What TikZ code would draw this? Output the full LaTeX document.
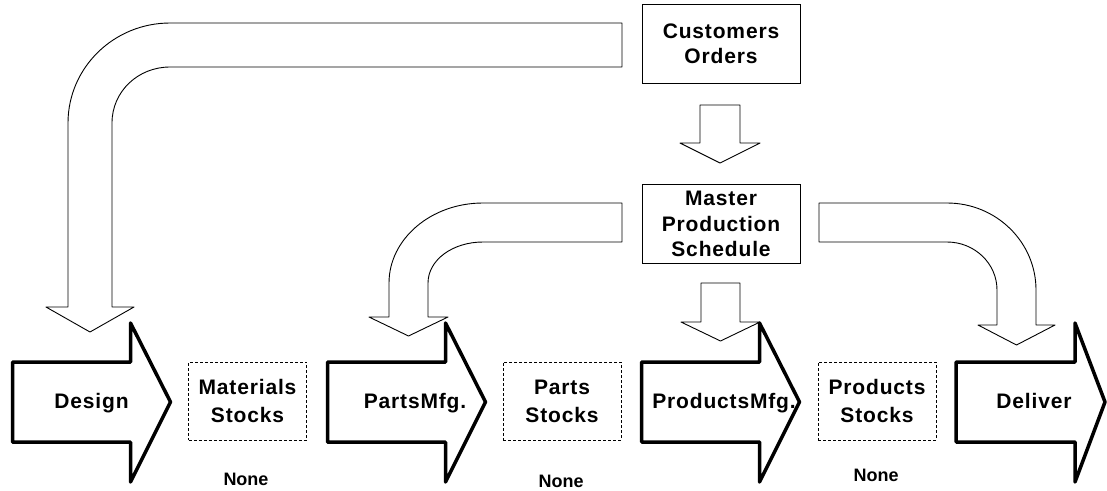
\documentclass[tikz,border=0pt]{standalone}
\usepackage{fontspec}
\setmainfont{Liberation Sans}
\newfontfamily\boxfont[LetterSpace=4]{Liberation Sans}
\usetikzlibrary{positioning}

\tikzset{
    planbox/.style={draw, line width=0.9pt, minimum width=158pt, minimum height=79pt,
        inner sep=0pt, align=center, font=\boxfont\bfseries\fontsize{21}{25.5}\selectfont},
    stockbox/.style={draw, dash pattern=on 3pt off 2pt, line width=0.8pt, minimum width=118pt,
        minimum height=78pt, inner sep=0pt, align=center, font=\boxfont\bfseries\fontsize{21}{28}\selectfont},
    stagearrow/.style={draw, line width=3.5pt, line join=round},
    stagetext/.style={anchor=base, inner sep=0pt, font=\boxfont\bfseries\fontsize{21}{25}\selectfont},
    fatarrow/.style={draw, fill=white, line width=0.9pt, line join=round},
    nonetext/.style={inner sep=0pt, font=\bfseries\fontsize{18}{22}\selectfont}
}

\begin{document}
\begin{tikzpicture}[x=1pt, y=-1pt]
    \useasboundingbox (0,0) rectangle (1107,490);

    \node[planbox] (orders) at (721,44) {Customers\\Orders};
    \node[planbox, below=100pt of orders] (mps) {Master\\Production\\Schedule};

    % block arrows out of the plans
    \draw[fatarrow] (622,23) -- (170,23) .. controls (113.7,23) and (68,67.8) .. (68,123)
        -- (68,307) -- (46,307) -- (90,332) -- (134,307) -- (112,307) -- (112,123)
        .. controls (112,91.5) and (138,67) .. (170,67) -- (622,67) -- cycle;
    \draw[fatarrow] (700,105) -- (740,105) -- (740,143) -- (760,143) -- (720,163)
        -- (680,143) -- (700,143) -- cycle;
    \draw[fatarrow] (701,283) -- (740,283) -- (740,322) -- (760,322) -- (720.5,341)
        -- (681,322) -- (701,322) -- cycle;
    \draw[fatarrow] (622,203) -- (483,203) .. controls (431,203) and (389,239) .. (389,283)
        -- (389,317) -- (369,317) -- (408.5,336) -- (448,317) -- (428,317) -- (428,283)
        .. controls (428,260) and (452.6,242) .. (483,242) -- (622,242) -- cycle;
    \draw[fatarrow] (819,203) -- (947,203) .. controls (996.2,203) and (1036,242) .. (1036,290)
        -- (1036,325) -- (1055,325) -- (1016.5,345) -- (978,325) -- (997,325) -- (997,290)
        .. controls (997,263.5) and (974.6,242) .. (947,242) -- (819,242) -- cycle;

    % the stages
    \draw[stagearrow] (12.5,362) -- (130.5,362) -- (130.5,323) -- (170.5,402)
        -- (130.5,482) -- (130.5,442) -- (12.5,442) -- cycle;
    \draw[stagearrow] (327.5,362) -- (445.5,362) -- (445.5,323) -- (485.5,402)
        -- (445.5,482) -- (445.5,442) -- (327.5,442) -- cycle;
    \draw[stagearrow] (641.5,362) -- (759.5,362) -- (759.5,323) -- (799.5,402)
        -- (759.5,482) -- (759.5,442) -- (641.5,442) -- cycle;
    \draw[stagearrow] (956,362) -- (1075,362) -- (1075,323) -- (1105,402)
        -- (1075,482) -- (1075,442) -- (956,442) -- cycle;

    \node[stagetext] (design) at (91.5,408) {Design};
    \node[stagetext] (partsmfg) at (415,408) {PartsMfg.};
    \node[stagetext] (productsmfg) at (724,408) {ProductsMfg.};
    \node[stagetext] (deliver) at (1034,408) {Deliver};

    \node[stockbox] (matstock) at (247.5,401) {Materials\\Stocks};
    \node[stockbox] (partstock) at (562,401) {Parts\\Stocks};
    \node[stockbox] (prodstock) at (877,401) {Products\\Stocks};

    \node[nonetext] (matnone) at (246,479) {None};
    \node[nonetext] (partnone) at (561,481.5) {None};
    \node[nonetext] (prodnone) at (876,475) {None};
\end{tikzpicture}
\end{document}
